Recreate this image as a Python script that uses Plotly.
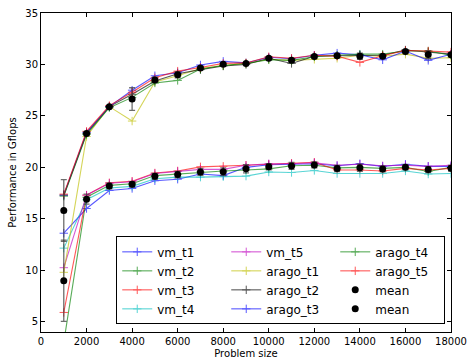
import numpy as np
import plotly.graph_objects as go

sizes = [1000, 2000, 3000, 4000, 5000, 6000, 7000, 8000, 9000, 10000,
         11000, 12000, 13000, 14000, 15000, 16000, 17000, 18000]

vm_t1 = [13.6, 16.0, 17.75, 17.95, 18.7, 18.85, 19.35, 19.2, 20.0, 20.25, 20.3, 20.35, 20.15, 20.35, 20.1, 20.3, 20.1, 20.1]
vm_t2 = [3.0, 17.1, 18.25, 18.4, 19.2, 19.35, 19.55, 19.65, 19.75, 19.85, 20.15, 20.2, 19.95, 20.0, 19.9, 20.0, 19.6, 20.0]
vm_t3 = [5.9, 17.3, 18.5, 18.65, 19.45, 19.65, 20.05, 20.1, 20.2, 20.3, 20.4, 20.5, 19.75, 19.75, 19.65, 19.9, 19.75, 19.9]
vm_t4 = [12.15, 16.85, 18.0, 18.15, 18.9, 19.05, 19.05, 19.1, 19.15, 19.55, 19.5, 19.7, 19.4, 19.4, 19.4, 19.65, 19.35, 19.4]
vm_t5 = [10.25, 17.3, 18.45, 18.6, 19.4, 19.6, 19.8, 19.8, 20.2, 20.35, 20.35, 20.45, 20.2, 20.3, 20.15, 20.2, 20.1, 20.2]

arago_t1 = [9.8, 23.0, 25.9, 24.5, 28.3, 28.9, 29.6, 29.9, 30.1, 30.5, 30.4, 30.5, 30.6, 30.9, 30.8, 31.0, 30.6, 30.65]
arago_t2 = [17.3, 23.3, 25.9, 27.1, 28.4, 29.1, 29.5, 29.85, 30.0, 30.6, 30.1, 30.8, 30.85, 30.9, 30.9, 31.4, 31.2, 31.0]
arago_t3 = [17.3, 23.4, 25.9, 27.5, 28.9, 29.2, 29.95, 30.3, 30.15, 30.7, 30.55, 30.9, 31.1, 30.95, 30.45, 31.3, 30.4, 31.0]
arago_t4 = [17.2, 23.2, 25.8, 26.8, 28.2, 28.45, 29.55, 29.9, 30.1, 30.45, 30.4, 30.75, 30.9, 31.0, 31.0, 31.3, 31.3, 30.9]
arago_t5 = [17.4, 23.5, 26.0, 27.3, 28.7, 29.35, 29.7, 30.1, 30.15, 30.75, 30.6, 30.9, 30.8, 30.2, 30.85, 31.35, 31.3, 31.2]

series = [
    ("vm_t1", vm_t1, "rgb(0,0,255)"),
    ("vm_t2", vm_t2, "rgb(0,128,0)"),
    ("vm_t3", vm_t3, "rgb(255,0,0)"),
    ("vm_t4", vm_t4, "rgb(0,191,191)"),
    ("vm_t5", vm_t5, "rgb(191,0,191)"),
    ("arago_t1", arago_t1, "rgb(191,191,0)"),
    ("arago_t2", arago_t2, "rgb(0,0,0)"),
    ("arago_t3", arago_t3, "rgb(0,0,255)"),
    ("arago_t4", arago_t4, "rgb(0,128,0)"),
    ("arago_t5", arago_t5, "rgb(255,0,0)"),
]

# legend placement (matplotlib column-major, 3 columns) -> row-major ranks
legend_order = ["vm_t1", "vm_t5", "arago_t4",
                "vm_t2", "arago_t1", "arago_t5",
                "vm_t3", "arago_t2", "mean_a",
                "vm_t4", "arago_t3", "mean_b"]
rank = {name: (i + 1) * 10 for i, name in enumerate(legend_order)}

fig = go.Figure()
for name, vals, col in series:
    fig.add_trace(go.Scatter(
        x=sizes, y=vals, name=name, mode="lines+markers",
        line=dict(color=col, width=1.1),
        marker=dict(symbol="cross-thin", size=6, line=dict(color=col, width=1)),
        opacity=0.65, legendrank=rank[name],
    ))

vm_arr = np.array([vm_t1, vm_t2, vm_t3, vm_t4, vm_t5])
ar_arr = np.array([arago_t1, arago_t2, arago_t3, arago_t4, arago_t5])
for key, arr in (("mean_a", vm_arr), ("mean_b", ar_arr)):
    fig.add_trace(go.Scatter(
        x=sizes, y=arr.mean(axis=0), name="mean", mode="markers",
        marker=dict(symbol="circle", size=7, color="black"),
        error_y=dict(type="data", array=arr.std(axis=0), visible=True,
                     color="rgba(60,60,60,0.75)", thickness=1.3, width=3),
        legendrank=rank[key],
    ))

axis_common = dict(
    showline=True, linecolor="black", linewidth=1, mirror="ticks",
    ticks="inside", ticklen=4, tickcolor="black", showgrid=False, zeroline=False,
    tickfont=dict(family="DejaVu Sans", size=10, color="black"),
    automargin=False,
)

fig.update_layout(
    width=469, height=359,
    margin=dict(l=41, r=18, t=13, b=27),
    paper_bgcolor="white", plot_bgcolor="white",
    font=dict(family="DejaVu Sans", color="black"),
    xaxis=dict(range=[0, 18000], tickvals=list(range(0, 18001, 2000)), tickformat="d",
               title=dict(text="Problem size", font=dict(size=10), standoff=3),
               **axis_common),
    yaxis=dict(range=[4, 35], tickvals=[5, 10, 15, 20, 25, 30, 35],
               title=dict(text="Performance in Gflops", font=dict(size=10), standoff=6),
               **axis_common),
    legend=dict(
        orientation="h", x=0.1835, y=0.024, xanchor="left", yanchor="bottom",
        bgcolor="white", bordercolor="black", borderwidth=1,
        font=dict(family="DejaVu Sans", size=12, color="black"),
        entrywidth=64, traceorder="normal", tracegroupgap=0,
    ),
    showlegend=True,
)

fig.write_html("out.html", config={"displayModeBar": False},
               post_script="document.body.style.margin='0';")
